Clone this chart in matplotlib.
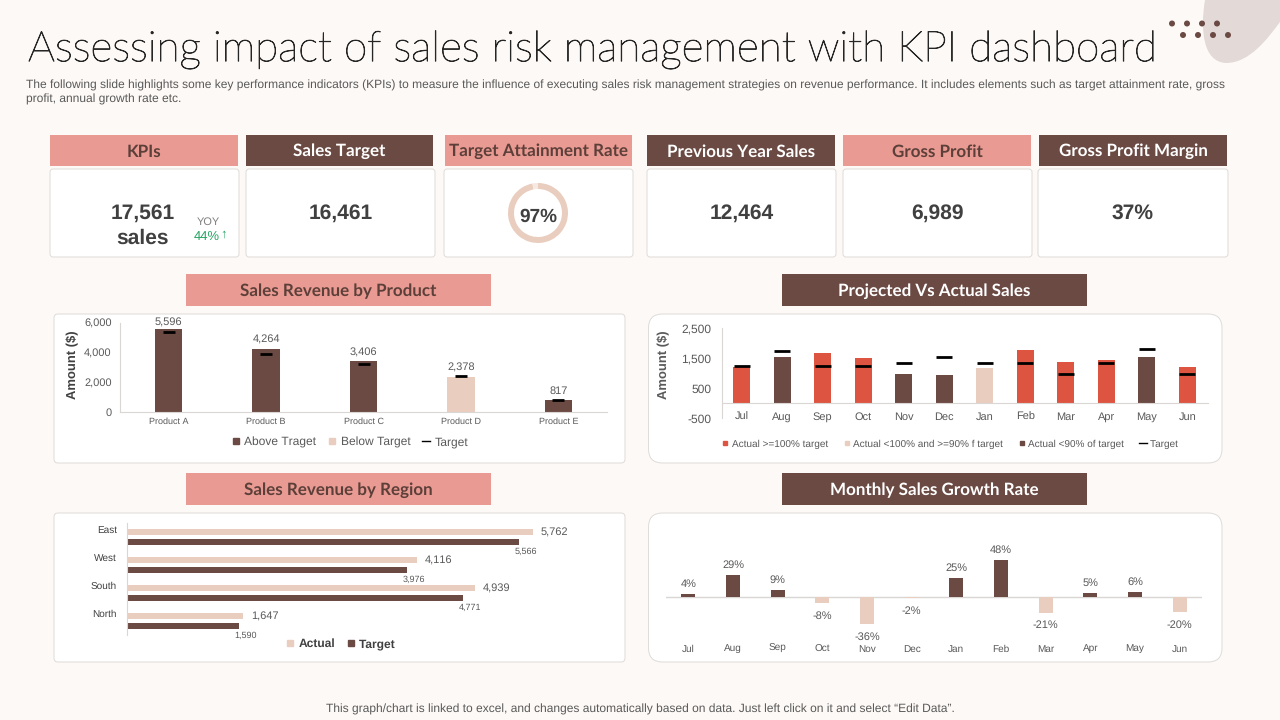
import numpy as np
import matplotlib
matplotlib.use("Agg")
import matplotlib.pyplot as plt
import matplotlib.patheffects as pe
from matplotlib.lines import Line2D
from matplotlib.patches import FancyBboxPatch, PathPatch, Circle, Rectangle
from matplotlib.path import Path
from matplotlib.ticker import FuncFormatter

W, H = 1280, 720
BG = "#fdf9f6"
PINK = "#e99a92"
BROWN = "#6b4a43"
BEIGE = "#e9cdbf"
RED = "#dd5441"
GREEN = "#23a45f"
EDGE = "#dfdbd8"
AXIS = "#d9d6d3"
DARK = "#404040"
GREY = "#595959"

# ----- KPI cards -----
kpi_headers = ["KPIs", "Sales Target", "Target Attainment Rate", "Previous Year Sales", "Gross Profit", "Gross Profit Margin"]
kpi_values = ["17,561", "16,461", "97%", "12,464", "6,989", "37%"]
attainment = [97, 3]

# ----- Sales revenue by product -----
products = ["Product A", "Product B", "Product C", "Product D", "Product E"]
product_actual = np.array([5596, 4264, 3406, 2378, 817])
product_target = np.array([5420, 3930, 3250, 2400, 800])

# ----- Projected vs actual -----
months = ["Jul", "Aug", "Sep", "Oct", "Nov", "Dec", "Jan", "Feb", "Mar", "Apr", "May", "Jun"]
proj_actual = np.array([1211, 1544, 1678, 1511, 978, 944, 1178, 1778, 1378, 1444, 1544, 1211])
proj_target = np.array([1233, 1733, 1233, 1233, 1333, 1533, 1333, 1333, 967, 1333, 1800, 967])
proj_status = np.array(["over", "low", "over", "over", "low", "low", "near", "over", "over", "over", "low", "over"])

# ----- Sales revenue by region -----
regions = ["East", "West", "South", "North"]
region_actual = np.array([5762, 4116, 4939, 1647])
region_target = np.array([5566, 3976, 4771, 1590])

# ----- Monthly growth -----
growth = np.array([4, 29, 9, -8, -36, -2, 25, 48, -21, 5, 6, -20])

plt.rcParams["font.family"] = ["Liberation Sans", "DejaVu Sans"]
plt.rcParams["text.hinting"] = "no_hinting"
plt.rcParams["text.hinting_factor"] = 1
fig = plt.figure(figsize=(W / 100, H / 100), dpi=100, facecolor=BG)

bg = fig.add_axes([0, 0, 1, 1])
bg.set_xlim(0, W)
bg.set_ylim(H, 0)
bg.axis("off")


def px_axes(left, top, right, bottom):
    ax = fig.add_axes([left / W, 1 - bottom / H, (right - left) / W, (bottom - top) / H])
    ax.patch.set_alpha(0)
    return ax


def rounded_box(left, top, right, bottom, radius):
    bg.add_patch(FancyBboxPatch((left + radius, top + radius), right - left - 2 * radius, bottom - top - 2 * radius,
                                boxstyle=f"round,pad={radius},rounding_size={radius}",
                                facecolor="white", edgecolor=EDGE, linewidth=0.7))


def header(left, top, right, bottom, title, color, size):
    bg.add_patch(Rectangle((left, top), right - left, bottom - top, facecolor=color, edgecolor="none"))
    text_color = "white" if color == BROWN else "#5c3f39"
    bg.text((left + right) / 2, (top + bottom) / 2 + 1, title, ha="center", va="center", color=text_color,
            fontsize=size, fontweight="bold", family=["Lato", "DejaVu Sans"])


def legend_at(ax, handles, x, y, **kwargs):
    return ax.legend(handles=handles, loc="center", bbox_to_anchor=(x / W, 1 - y / H), bbox_transform=fig.transFigure,
                     ncols=len(handles), frameon=False, numpoints=1, handlelength=0.7, borderpad=0, **kwargs)


def square(color, label, size=6):
    return Line2D([0], [0], linestyle="none", marker="s", markersize=size * 0.72, color=color, label=label)


thousands = FuncFormatter(lambda v, _: f"{v:,.0f}")

# ----- decoration, title and notes -----
blob = Path([(1205, 0), (1200, 30), (1203, 62), (1226, 63), (1250, 63), (1268, 38), (1280, 22), (1280, 0), (1205, 0)],
            [Path.MOVETO, Path.CURVE4, Path.CURVE4, Path.CURVE4, Path.CURVE4, Path.CURVE4, Path.CURVE4, Path.LINETO, Path.CLOSEPOLY])
bg.add_patch(PathPatch(blob, facecolor="#e3d9d7", edgecolor="none"))
for cx in [1172, 1187, 1202, 1217]:
    bg.add_patch(Circle((cx, 23.5), 3, facecolor=BROWN, edgecolor="none"))
for cx in [1183, 1198, 1213, 1228]:
    bg.add_patch(Circle((cx, 35), 3, facecolor=BROWN, edgecolor="none"))

title = bg.text(28, 50, "Assessing impact of sales risk management with KPI dashboard", ha="left", va="center",
                fontsize=30.5, fontweight="light", color="#262626", family=["Lato", "DejaVu Sans"])
title.set_path_effects([pe.withStroke(linewidth=0.6, foreground="#262626")])
bg.text(26, 85, "The following slide highlights some key performance indicators (KPIs) to measure the influence of executing sales risk management strategies on revenue performance. It includes elements such as target attainment rate, gross",
        ha="left", va="center", fontsize=8.74, color=GREY)
bg.text(26, 99, "profit, annual growth rate etc.", ha="left", va="center", fontsize=8.74, color=GREY)
bg.text(640, 709, "This graph/chart is linked to excel, and changes automatically based on data. Just left click on it and select \u201cEdit Data\u201d.",
        ha="center", va="center", fontsize=8.7, color=GREY)

# ----- KPI row -----
header_edges = [(50, 238), (246, 433), (445, 632), (647, 835), (843, 1031), (1039, 1227)]
card_edges = [(50, 239), (246, 435), (444, 633), (647, 836), (843, 1032), (1038, 1228)]
header_colors = [PINK, BROWN, PINK, BROWN, PINK, BROWN]
for (hl, hr), (cl, cr), name, value, color in zip(header_edges, card_edges, kpi_headers, kpi_values, header_colors):
    header(hl, 135, hr, 166, name, color, 12)
    rounded_box(cl, 169, cr, 257, 3)
    if name == "KPIs":
        bg.text(143, 213, value, ha="center", va="center", fontsize=15, fontweight="bold", color=DARK)
        bg.text(143, 238, "sales", ha="center", va="center", fontsize=15, fontweight="bold", color=DARK)
    elif name == "Target Attainment Rate":
        bg.text(538, 217, value, ha="center", va="center", fontsize=14, fontweight="bold", color=DARK, zorder=5)
    else:
        bg.text((cl + cr) / 2, 213, value, ha="center", va="center", fontsize=15, fontweight="bold", color=DARK)

bg.text(208.5, 222, "YOY", ha="center", va="center", fontsize=7.8, color="#7f7f7f")
bg.text(207, 237, "44%", ha="center", va="center", fontsize=9.7, color=GREEN)
bg.text(224, 234, "\u2191", ha="center", va="center", fontsize=9, fontweight="bold", color=GREEN)

donut = px_axes(508, 183, 568, 243)
donut.pie(attainment, startangle=90, counterclock=False, colors=[BEIGE, "#f5e9e2"], radius=1,
          wedgeprops={"width": 0.2, "linewidth": 0})
donut.set_xlim(-1, 1)
donut.set_ylim(-1, 1)

# ----- section panels -----
rounded_box(54, 314, 625, 463, 4)
rounded_box(648.5, 314, 1222, 463, 14)
rounded_box(54, 513, 625, 662, 4)
rounded_box(648.5, 513, 1222, 662, 14)
header(186, 274, 491, 306, "Sales Revenue by Product", PINK, 12.5)
header(782, 274, 1087, 306, "Projected Vs Actual Sales", BROWN, 12.5)
header(186, 473, 491, 505, "Sales Revenue by Region", PINK, 12.5)
header(782, 473, 1087, 505, "Monthly Sales Growth Rate", BROWN, 12.5)

# ----- sales revenue by product -----
ax = px_axes(120, 323, 607, 412)
x = np.arange(len(products))
above = product_actual >= product_target
ax.bar(x[above], product_actual[above], width=0.28, color=BROWN)
ax.bar(x[~above], product_actual[~above], width=0.28, color=BEIGE)
ax.plot(x, product_target, linestyle="none", marker="_", markersize=8.6, markeredgewidth=2, color="black")
for i, val in enumerate(product_actual):
    gap = 4.3 if i == 0 else 6.3
    ax.annotate(f"{val:,}", (i, val), xytext=(0, gap), textcoords="offset points", ha="center", va="center",
                fontsize=7.8, color=GREY, annotation_clip=False)
ax.set_xlim(-0.5, 4.5)
ax.set_ylim(0, 6000)
ax.set_xticks(x, products)
ax.set_yticks([0, 2000, 4000, 6000])
ax.yaxis.set_major_formatter(thousands)
ax.tick_params(axis="x", length=0, pad=4, labelsize=6.6, labelcolor=GREY)
ax.tick_params(axis="y", length=0, pad=6, labelsize=7.6, labelcolor=GREY)
for side in ["top", "right"]:
    ax.spines[side].set_visible(False)
ax.spines["left"].set_color(AXIS)
ax.spines["bottom"].set_color(AXIS)
ax.set_ylabel("Amount ($)", fontsize=9.5, fontweight="bold", color=DARK)
ax.yaxis.set_label_coords((79 - 120) / 487, 0.53)
legend_at(ax, [square(BROWN, "Above Traget"), square(BEIGE, "Below Target"),
               Line2D([0], [0], color="black", lw=1, label="Target")],
          350, 442.5, fontsize=8.5, labelcolor=GREY, handletextpad=0.35, columnspacing=1.0)

# ----- projected vs actual -----
ax = px_axes(721.5, 328.3, 1207.5, 418.3)
x = np.arange(len(months))
proj_colors = {"over": RED, "near": BEIGE, "low": BROWN}
for status, color in proj_colors.items():
    mask = proj_status == status
    ax.bar(x[mask], proj_actual[mask], width=0.42, color=color)
ax.plot(x, proj_target, linestyle="none", marker="_", markersize=12.2, markeredgewidth=2, color="black")
ax.set_xlim(-0.5, 11.5)
ax.set_ylim(-500, 2500)
ax.set_xticks(x, months)
ax.set_yticks([-500, 500, 1500, 2500])
ax.yaxis.set_major_formatter(thousands)
ax.tick_params(axis="x", length=0, pad=6, labelsize=7.6, labelcolor=GREY)
ax.tick_params(axis="y", length=0, pad=7.5, labelsize=8.8, labelcolor=GREY)
for side in ["top", "right"]:
    ax.spines[side].set_visible(False)
ax.spines["bottom"].set_position(("data", 0))
ax.spines["left"].set_color(AXIS)
ax.spines["bottom"].set_color(AXIS)
ax.set_ylabel("Amount ($)", fontsize=9.5, fontweight="bold", color=GREY)
ax.yaxis.set_label_coords((670 - 721.5) / 486, 0.59)
legend_at(ax, [square(RED, "Actual >=100% target", 5), square(BEIGE, "Actual <100% and >=90% f target", 5),
               square(BROWN, "Actual <90% of target", 5), Line2D([0], [0], color="black", lw=1, label="Target")],
          950, 444, fontsize=7.3, labelcolor=GREY, handletextpad=0.3, columnspacing=1.5)

# ----- sales revenue by region -----
ax = px_axes(126.5, 523, 607, 635)
y = np.arange(len(regions))
ax.barh(y - 0.18, region_actual, height=0.21, color=BEIGE)
ax.barh(y + 0.18, region_target, height=0.21, color=BROWN)
for i in y:
    ax.annotate(f"{region_actual[i]:,}", (region_actual[i], i - 0.18), xytext=(5.8, -0.6), textcoords="offset points",
                ha="left", va="center", fontsize=7.8, color=GREY)
    ax.annotate(f"{region_target[i]:,}", (region_target[i], i + 0.18), xytext=(4.8, -6.5), textcoords="offset points",
                ha="center", va="center", fontsize=6.4, color=GREY, annotation_clip=False)
ax.set_xlim(0, 6811)
ax.set_ylim(3.5, -0.5)
ax.set_yticks(y - 0.29, regions)
ax.set_xticks([])
ax.tick_params(axis="y", length=0, pad=7, labelsize=7.2, labelcolor=DARK)
for side in ["top", "right", "bottom"]:
    ax.spines[side].set_visible(False)
ax.spines["left"].set_color(AXIS)
legend_at(ax, [square(BEIGE, "Actual"), square(BROWN, "Target")], 341, 644,
          labelcolor=DARK, handletextpad=0.35, columnspacing=1.0, prop={"size": 8.3, "weight": "bold"})

# ----- monthly growth -----
ax = px_axes(666, 525, 1202, 640)
x = np.arange(len(months))
ax.bar(x, growth, width=0.32, color=[BROWN if g > 0 else BEIGE for g in growth], zorder=2)
ax.axhline(0, color=AXIS, linewidth=1, zorder=1)
for i, g in enumerate(growth):
    ax.annotate(f"{g}%", (i, g), xytext=(0, 7.3 if g > 0 else -9), textcoords="offset points", ha="center", va="center",
                fontsize=7.8, color=GREY, annotation_clip=False)
ax.set_xlim(-0.5, 11.5)
ax.set_ylim(-56.6, 94.7)
ax.set_xticks(x, months)
ax.set_yticks([])
ax.tick_params(axis="x", length=0, pad=3, labelsize=7.4, labelcolor=GREY)
for spine in ax.spines.values():
    spine.set_visible(False)

fig.savefig("out.png", dpi=100, facecolor=BG)
